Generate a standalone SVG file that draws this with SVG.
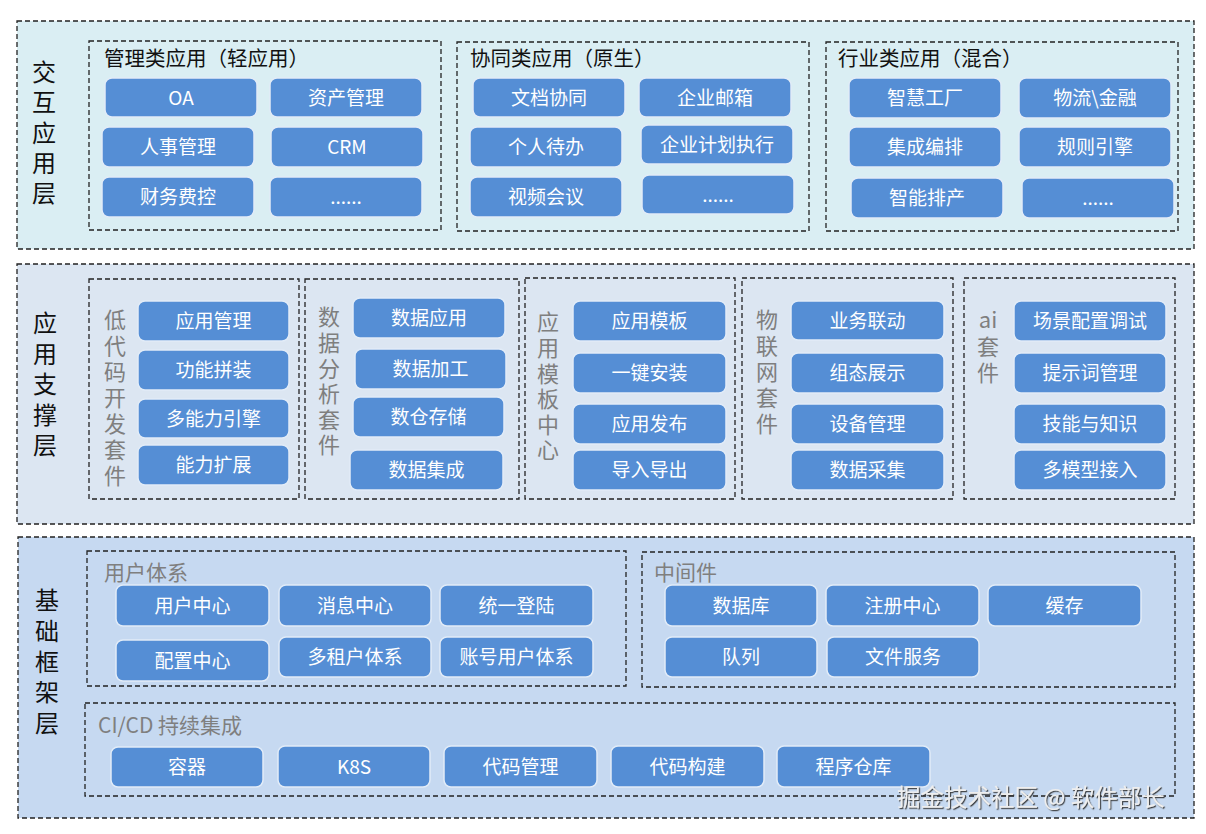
<svg xmlns="http://www.w3.org/2000/svg" width="1206" height="834" viewBox="0 0 1206 834">
<defs>
<style>
text{font-family:"Microsoft YaHei","Noto Sans CJK SC","Noto Sans",sans-serif}
.layer{stroke:#222;stroke-width:1.3;stroke-dasharray:5 3}
.grp{fill:none;stroke:#222;stroke-width:1.3;stroke-dasharray:5 3}
.box rect{fill:#558ED5;stroke:#E2ECF8;stroke-width:1.5}
.box text{fill:#fff;font-size:19px;text-anchor:middle}
.ltitle{fill:#111;font-size:24px;writing-mode:vertical-rl}
.gtitle{fill:#111;font-size:20.5px}
.gray{fill:#7f7f7f;font-size:21px}
.vlab{fill:#7f7f7f;font-size:22px;writing-mode:vertical-rl}
.hlab{fill:#7f7f7f;font-size:22px;text-anchor:middle}
</style>
<filter id="shadow" x="-5%" y="-20%" width="110%" height="140%">
<feDropShadow dx="1.2" dy="1.2" stdDeviation="0.4" flood-color="#333" flood-opacity="0.9"/>
</filter>
</defs>
<rect width="1206" height="834" fill="#fff"/>

<!-- Layer 1 -->
<g id="layer-interaction">
<rect class="layer" x="17" y="21" width="1177" height="228" fill="#DAEEF3"/>
<text class="ltitle" x="44" y="60" letter-spacing="6.2">交互应用层</text>
</g>
<g id="grp-mgmt">
<rect class="grp" x="89" y="41" width="352" height="189"/>
<text class="gtitle" x="104" y="66">管理类应用（轻应用）</text>
</g>
<g id="grp-collab">
<rect class="grp" x="457" y="42" width="352" height="189"/>
<text class="gtitle" x="470" y="66">协同类应用（原生）</text>
</g>
<g id="grp-industry">
<rect class="grp" x="826" y="42" width="352" height="189"/>
<text class="gtitle" x="838" y="66">行业类应用（混合）</text>
</g>

<!-- Layer 2 -->
<g id="layer-support">
<rect class="layer" x="17" y="264" width="1177" height="260" fill="#DCE6F2"/>
<text class="ltitle" x="45" y="311" letter-spacing="6.5">应用支撑层</text>
</g>
<g id="grp-lowcode">
<rect class="grp" x="89" y="279" width="210" height="220"/>
<text class="vlab" x="115" y="309" letter-spacing="4">低代码开发套件</text>
</g>
<g id="grp-data">
<rect class="grp" x="305" y="279" width="214" height="220"/>
<text class="vlab" x="329" y="306" letter-spacing="3.6">数据分析套件</text>
</g>
<g id="grp-template">
<rect class="grp" x="525" y="278" width="210" height="221"/>
<text class="vlab" x="548" y="311" letter-spacing="3.6">应用模板中心</text>
</g>
<g id="grp-iot">
<rect class="grp" x="742" y="278" width="211" height="221"/>
<text class="vlab" x="767" y="309" letter-spacing="4">物联网套件</text>
</g>
<g id="grp-ai">
<rect class="grp" x="964" y="278" width="211" height="221"/>
<text class="hlab" x="988" y="328">ai</text>
<text class="vlab" x="988" y="336" letter-spacing="4">套件</text>
</g>

<!-- Layer 3 -->
<g id="layer-base">
<rect class="layer" x="18" y="537" width="1176" height="281" fill="#C6D9F1"/>
<text class="ltitle" x="47" y="588" letter-spacing="6.75">基础框架层</text>
</g>
<g id="grp-user">
<rect class="grp" x="87" y="551" width="539" height="135"/>
<text class="gray" x="104" y="580">用户体系</text>
</g>
<g id="grp-middleware">
<rect class="grp" x="642" y="552" width="533" height="135"/>
<text class="gray" x="654" y="580">中间件</text>
</g>
<g id="grp-cicd">
<rect class="grp" x="85" y="703" width="1090" height="93"/>
<text class="gray" x="98" y="733">CI/CD 持续集成</text>
</g>

<g id="connectors"></g>

<!-- Nodes: layer 1 -->
<g id="n-oa" class="box"><rect x="105" y="78" width="152" height="39" rx="7"/><text x="181" y="104.5">OA</text></g>
<g id="n-asset" class="box"><rect x="270" y="78" width="152" height="39" rx="7"/><text x="346" y="104.5">资产管理</text></g>
<g id="n-hr" class="box"><rect x="102" y="127" width="152" height="40" rx="7"/><text x="178" y="154">人事管理</text></g>
<g id="n-crm" class="box"><rect x="271" y="127" width="152" height="40" rx="7"/><text x="347" y="154">CRM</text></g>
<g id="n-fin" class="box"><rect x="102" y="177" width="152" height="40" rx="7"/><text x="178" y="204">财务费控</text></g>
<g id="n-more1" class="box"><rect x="270" y="177" width="152" height="40" rx="7"/><text x="346" y="204">......</text></g>

<g id="n-doc" class="box"><rect x="473" y="78" width="152" height="39" rx="7"/><text x="549" y="104.5">文档协同</text></g>
<g id="n-mail" class="box"><rect x="639" y="78" width="152" height="39" rx="7"/><text x="715" y="104.5">企业邮箱</text></g>
<g id="n-todo" class="box"><rect x="470" y="127" width="152" height="40" rx="7"/><text x="546" y="154">个人待办</text></g>
<g id="n-plan" class="box"><rect x="641" y="125" width="152" height="39" rx="7"/><text x="717" y="151.5">企业计划执行</text></g>
<g id="n-video" class="box"><rect x="470" y="177" width="152" height="40" rx="7"/><text x="546" y="204">视频会议</text></g>
<g id="n-more2" class="box"><rect x="642" y="175" width="152" height="39" rx="7"/><text x="718" y="201.5">......</text></g>

<g id="n-factory" class="box"><rect x="849" y="78" width="152" height="40" rx="7"/><text x="925" y="105">智慧工厂</text></g>
<g id="n-logistics" class="box"><rect x="1019" y="78" width="152" height="40" rx="7"/><text x="1095" y="105">物流\金融</text></g>
<g id="n-orchestr" class="box"><rect x="849" y="127" width="152" height="40" rx="7"/><text x="925" y="154">集成编排</text></g>
<g id="n-rules" class="box"><rect x="1019" y="127" width="152" height="40" rx="7"/><text x="1095" y="154">规则引擎</text></g>
<g id="n-aps" class="box"><rect x="851" y="178" width="152" height="40" rx="7"/><text x="927" y="205">智能排产</text></g>
<g id="n-more3" class="box"><rect x="1022" y="178" width="152" height="40" rx="7"/><text x="1098" y="205">......</text></g>

<!-- Nodes: layer 2 -->
<g id="n-appmgmt" class="box"><rect x="138" y="301" width="151" height="40" rx="7"/><text x="213.5" y="328">应用管理</text></g>
<g id="n-assemble" class="box"><rect x="138" y="350" width="151" height="40" rx="7"/><text x="213.5" y="377">功能拼装</text></g>
<g id="n-engine" class="box"><rect x="138" y="399" width="151" height="39" rx="7"/><text x="213.5" y="425.5">多能力引擎</text></g>
<g id="n-extend" class="box"><rect x="138" y="445" width="151" height="40" rx="7"/><text x="213.5" y="472">能力扩展</text></g>

<g id="n-dataapp" class="box"><rect x="353" y="298" width="152" height="40" rx="7"/><text x="429" y="325">数据应用</text></g>
<g id="n-dataproc" class="box"><rect x="355" y="349" width="151" height="40" rx="7"/><text x="430.5" y="376">数据加工</text></g>
<g id="n-warehouse" class="box"><rect x="353" y="397" width="151" height="40" rx="7"/><text x="428.5" y="424">数仓存储</text></g>
<g id="n-integ" class="box"><rect x="350" y="450" width="153" height="40" rx="7"/><text x="426.5" y="477">数据集成</text></g>

<g id="n-tpl" class="box"><rect x="573" y="301" width="153" height="40" rx="7"/><text x="649.5" y="328">应用模板</text></g>
<g id="n-install" class="box"><rect x="573" y="353" width="153" height="40" rx="7"/><text x="649.5" y="380">一键安装</text></g>
<g id="n-publish" class="box"><rect x="573" y="404" width="153" height="40" rx="7"/><text x="649.5" y="431">应用发布</text></g>
<g id="n-io" class="box"><rect x="573" y="450" width="153" height="40" rx="7"/><text x="649.5" y="477">导入导出</text></g>

<g id="n-linkage" class="box"><rect x="791" y="301" width="153" height="39" rx="7"/><text x="867.5" y="327.5">业务联动</text></g>
<g id="n-scada" class="box"><rect x="791" y="353" width="153" height="40" rx="7"/><text x="867.5" y="380">组态展示</text></g>
<g id="n-device" class="box"><rect x="791" y="404" width="153" height="40" rx="7"/><text x="867.5" y="431">设备管理</text></g>
<g id="n-collect" class="box"><rect x="791" y="450" width="153" height="40" rx="7"/><text x="867.5" y="477">数据采集</text></g>

<g id="n-scene" class="box"><rect x="1014" y="301" width="152" height="40" rx="7"/><text x="1090" y="328">场景配置调试</text></g>
<g id="n-prompt" class="box"><rect x="1014" y="353" width="152" height="40" rx="7"/><text x="1090" y="380">提示词管理</text></g>
<g id="n-skill" class="box"><rect x="1014" y="404" width="152" height="40" rx="7"/><text x="1090" y="431">技能与知识</text></g>
<g id="n-model" class="box"><rect x="1014" y="450" width="152" height="40" rx="7"/><text x="1090" y="477">多模型接入</text></g>

<!-- Nodes: layer 3 -->
<g id="n-usercenter" class="box"><rect x="116" y="585" width="153" height="41" rx="7"/><text x="192.5" y="612.5">用户中心</text></g>
<g id="n-msg" class="box"><rect x="279" y="585" width="152" height="41" rx="7"/><text x="355" y="612.5">消息中心</text></g>
<g id="n-sso" class="box"><rect x="440" y="585" width="153" height="41" rx="7"/><text x="516.5" y="612.5">统一登陆</text></g>
<g id="n-config" class="box"><rect x="116" y="640" width="153" height="41" rx="7"/><text x="192.5" y="667.5">配置中心</text></g>
<g id="n-tenant" class="box"><rect x="279" y="637" width="152" height="40" rx="7"/><text x="355" y="664">多租户体系</text></g>
<g id="n-account" class="box"><rect x="440" y="637" width="153" height="40" rx="7"/><text x="516.5" y="664">账号用户体系</text></g>

<g id="n-db" class="box"><rect x="665" y="585" width="152" height="41" rx="7"/><text x="741" y="612.5">数据库</text></g>
<g id="n-registry" class="box"><rect x="826" y="585" width="153" height="41" rx="7"/><text x="902.5" y="612.5">注册中心</text></g>
<g id="n-cache" class="box"><rect x="988" y="585" width="153" height="41" rx="7"/><text x="1064.5" y="612.5">缓存</text></g>
<g id="n-queue" class="box"><rect x="665" y="637" width="152" height="40" rx="7"/><text x="741" y="664">队列</text></g>
<g id="n-file" class="box"><rect x="827" y="637" width="152" height="40" rx="7"/><text x="903" y="664">文件服务</text></g>

<g id="n-container" class="box"><rect x="111" y="747" width="152" height="40" rx="7"/><text x="187" y="774">容器</text></g>
<g id="n-k8s" class="box"><rect x="278" y="746" width="152" height="41" rx="7"/><text x="354" y="773.5">K8S</text></g>
<g id="n-scm" class="box"><rect x="444" y="746" width="153" height="41" rx="7"/><text x="520.5" y="773.5">代码管理</text></g>
<g id="n-build" class="box"><rect x="611" y="746" width="153" height="41" rx="7"/><text x="687.5" y="773.5">代码构建</text></g>
<g id="n-repo" class="box"><rect x="777" y="746" width="153" height="41" rx="7"/><text x="853.5" y="773.5">程序仓库</text></g>

<text x="897" y="806" font-size="23.5" fill="#eeeeee" filter="url(#shadow)">掘金技术社区 @ 软件部长</text>
</svg>
